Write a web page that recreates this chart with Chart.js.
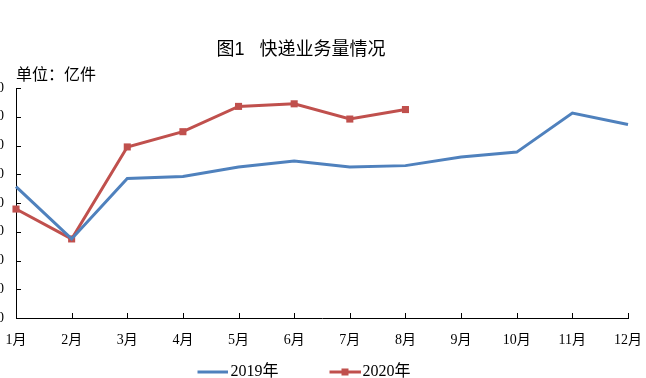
<!DOCTYPE html>
<html>
<head>
<meta charset="utf-8">
<script src="https://cdn.jsdelivr.net/npm/chart.js@4"></script>
<style>
  html, body { margin: 0; padding: 0; background: #fff; overflow: hidden; width: 646px; height: 378px; }
  #wrap { position: absolute; left: -45px; top: 0; width: 692px; height: 390px; }
</style>
</head>
<body>
<div id="wrap"><canvas id="c" width="692" height="390"></canvas></div>
<script>
const categories = ['1月','2月','3月','4月','5月','6月','7月','8月','9月','10月','11月','12月'];
const series2019 = [45.7, 27.5, 48.5, 49.2, 52.5, 54.6, 52.5, 53.0, 56.0, 57.7, 71.3, 67.3];
const series2020 = [37.9, 27.5, 59.5, 64.8, 73.6, 74.5, 69.2, 72.5];
const seriesNames = ['2019年', '2020年'];
const titleText = '图1   快递业务量情况';
const unitText = '单位：亿件';
const yMin = 0, yMax = 80, yStep = 10;

const BLUE = '#4F81BD';
const RED = '#C0504D';
const serif = "'Liberation Serif', 'Noto Sans CJK SC', serif";
const sans = "'Liberation Sans', 'Noto Sans CJK SC', sans-serif";

function legendImg(color, marker) {
  const c = document.createElement('canvas');
  c.width = 43; c.height = 12;
  const g = c.getContext('2d');
  g.strokeStyle = color; g.lineWidth = 3;
  g.beginPath(); g.moveTo(12, 6); g.lineTo(43, 6); g.stroke();
  if (marker) { g.fillStyle = color; g.fillRect(24, 2.5, 7, 7); }
  return c;
}
const legendImgs = [legendImg(BLUE, false), legendImg(RED, true)];

const innerTicks = {
  id: 'innerTicks',
  beforeDatasetsDraw(chart) {
    const {ctx, chartArea, scales} = chart;
    const xs = scales.x, ys = scales.y;
    ctx.save();
    ctx.strokeStyle = '#000';
    ctx.lineWidth = 1;
    ctx.beginPath();
    ys.ticks.forEach((t, i) => {
      const py = Math.round(ys.getPixelForTick(i)) + 0.5;
      const lx = Math.round(chartArea.left);
      ctx.moveTo(lx, py); ctx.lineTo(lx + 5, py);
    });
    xs.ticks.forEach((t, i) => {
      const px = Math.round(xs.getPixelForTick(i)) + 0.5;
      const by = Math.round(chartArea.bottom);
      ctx.moveTo(px, by); ctx.lineTo(px, by - 5);
    });
    ctx.stroke();
    ctx.restore();
  }
};

new Chart(document.getElementById('c'), {
  type: 'line',
  data: {
    labels: categories,
    datasets: [
      { label: seriesNames[0], data: series2019, borderColor: BLUE, backgroundColor: BLUE,
        borderWidth: 3, pointRadius: 0, pointHoverRadius: 0, tension: 0, clip: false },
      { label: seriesNames[1], data: series2020, borderColor: RED, backgroundColor: RED,
        borderWidth: 3, pointStyle: 'rect', pointRadius: 5, pointBorderWidth: 0,
        pointBackgroundColor: RED, tension: 0, clip: false }
    ]
  },
  options: {
    responsive: false,
    animation: false,
    devicePixelRatio: 1,
    layout: { padding: { left: 19, right: 19, top: 0, bottom: 0 } },
    plugins: {
      title: {
        display: true, text: titleText, color: '#000',
        font: { family: sans, size: 18, weight: 'normal' },
        padding: { top: 39.2, bottom: 0 }
      },
      subtitle: {
        display: true, text: unitText, color: '#000', align: 'start', fullSize: false,
        font: { family: sans, size: 16, weight: 'normal' },
        padding: { top: 5.6, bottom: 2.4 }
      },
      legend: {
        display: true, position: 'bottom',
        labels: {
          color: '#000',
          font: { family: serif, size: 16 },
          usePointStyle: true,
          pointStyleWidth: 31,
          padding: 45,
          generateLabels(chart) {
            const items = Chart.defaults.plugins.legend.labels.generateLabels(chart);
            items.forEach((it, i) => { it.pointStyle = legendImgs[i]; it.fontColor = '#000'; });
            return items;
          }
        }
      },
      tooltip: { enabled: false }
    },
    scales: {
      x: {
        type: 'category',
        offset: false,
        grid: { display: false, drawTicks: false },
        border: { display: true, color: '#000', width: 1 },
        ticks: { color: '#000', font: { family: serif, size: 14 }, mirror: true, padding: -30.4,
                 autoSkip: false, maxRotation: 0 },
        afterFit(s) { s.height = 1; }
      },
      y: {
        min: yMin, max: yMax,
        grid: { display: false, drawTicks: false },
        border: { display: true, color: '#000', width: 1 },
        ticks: { stepSize: yStep, color: '#000', font: { family: serif, size: 14 }, padding: 12 },
        afterFit(s) { s.width = 42; }
      }
    }
  },
  plugins: [innerTicks]
});
</script>
</body>
</html>
